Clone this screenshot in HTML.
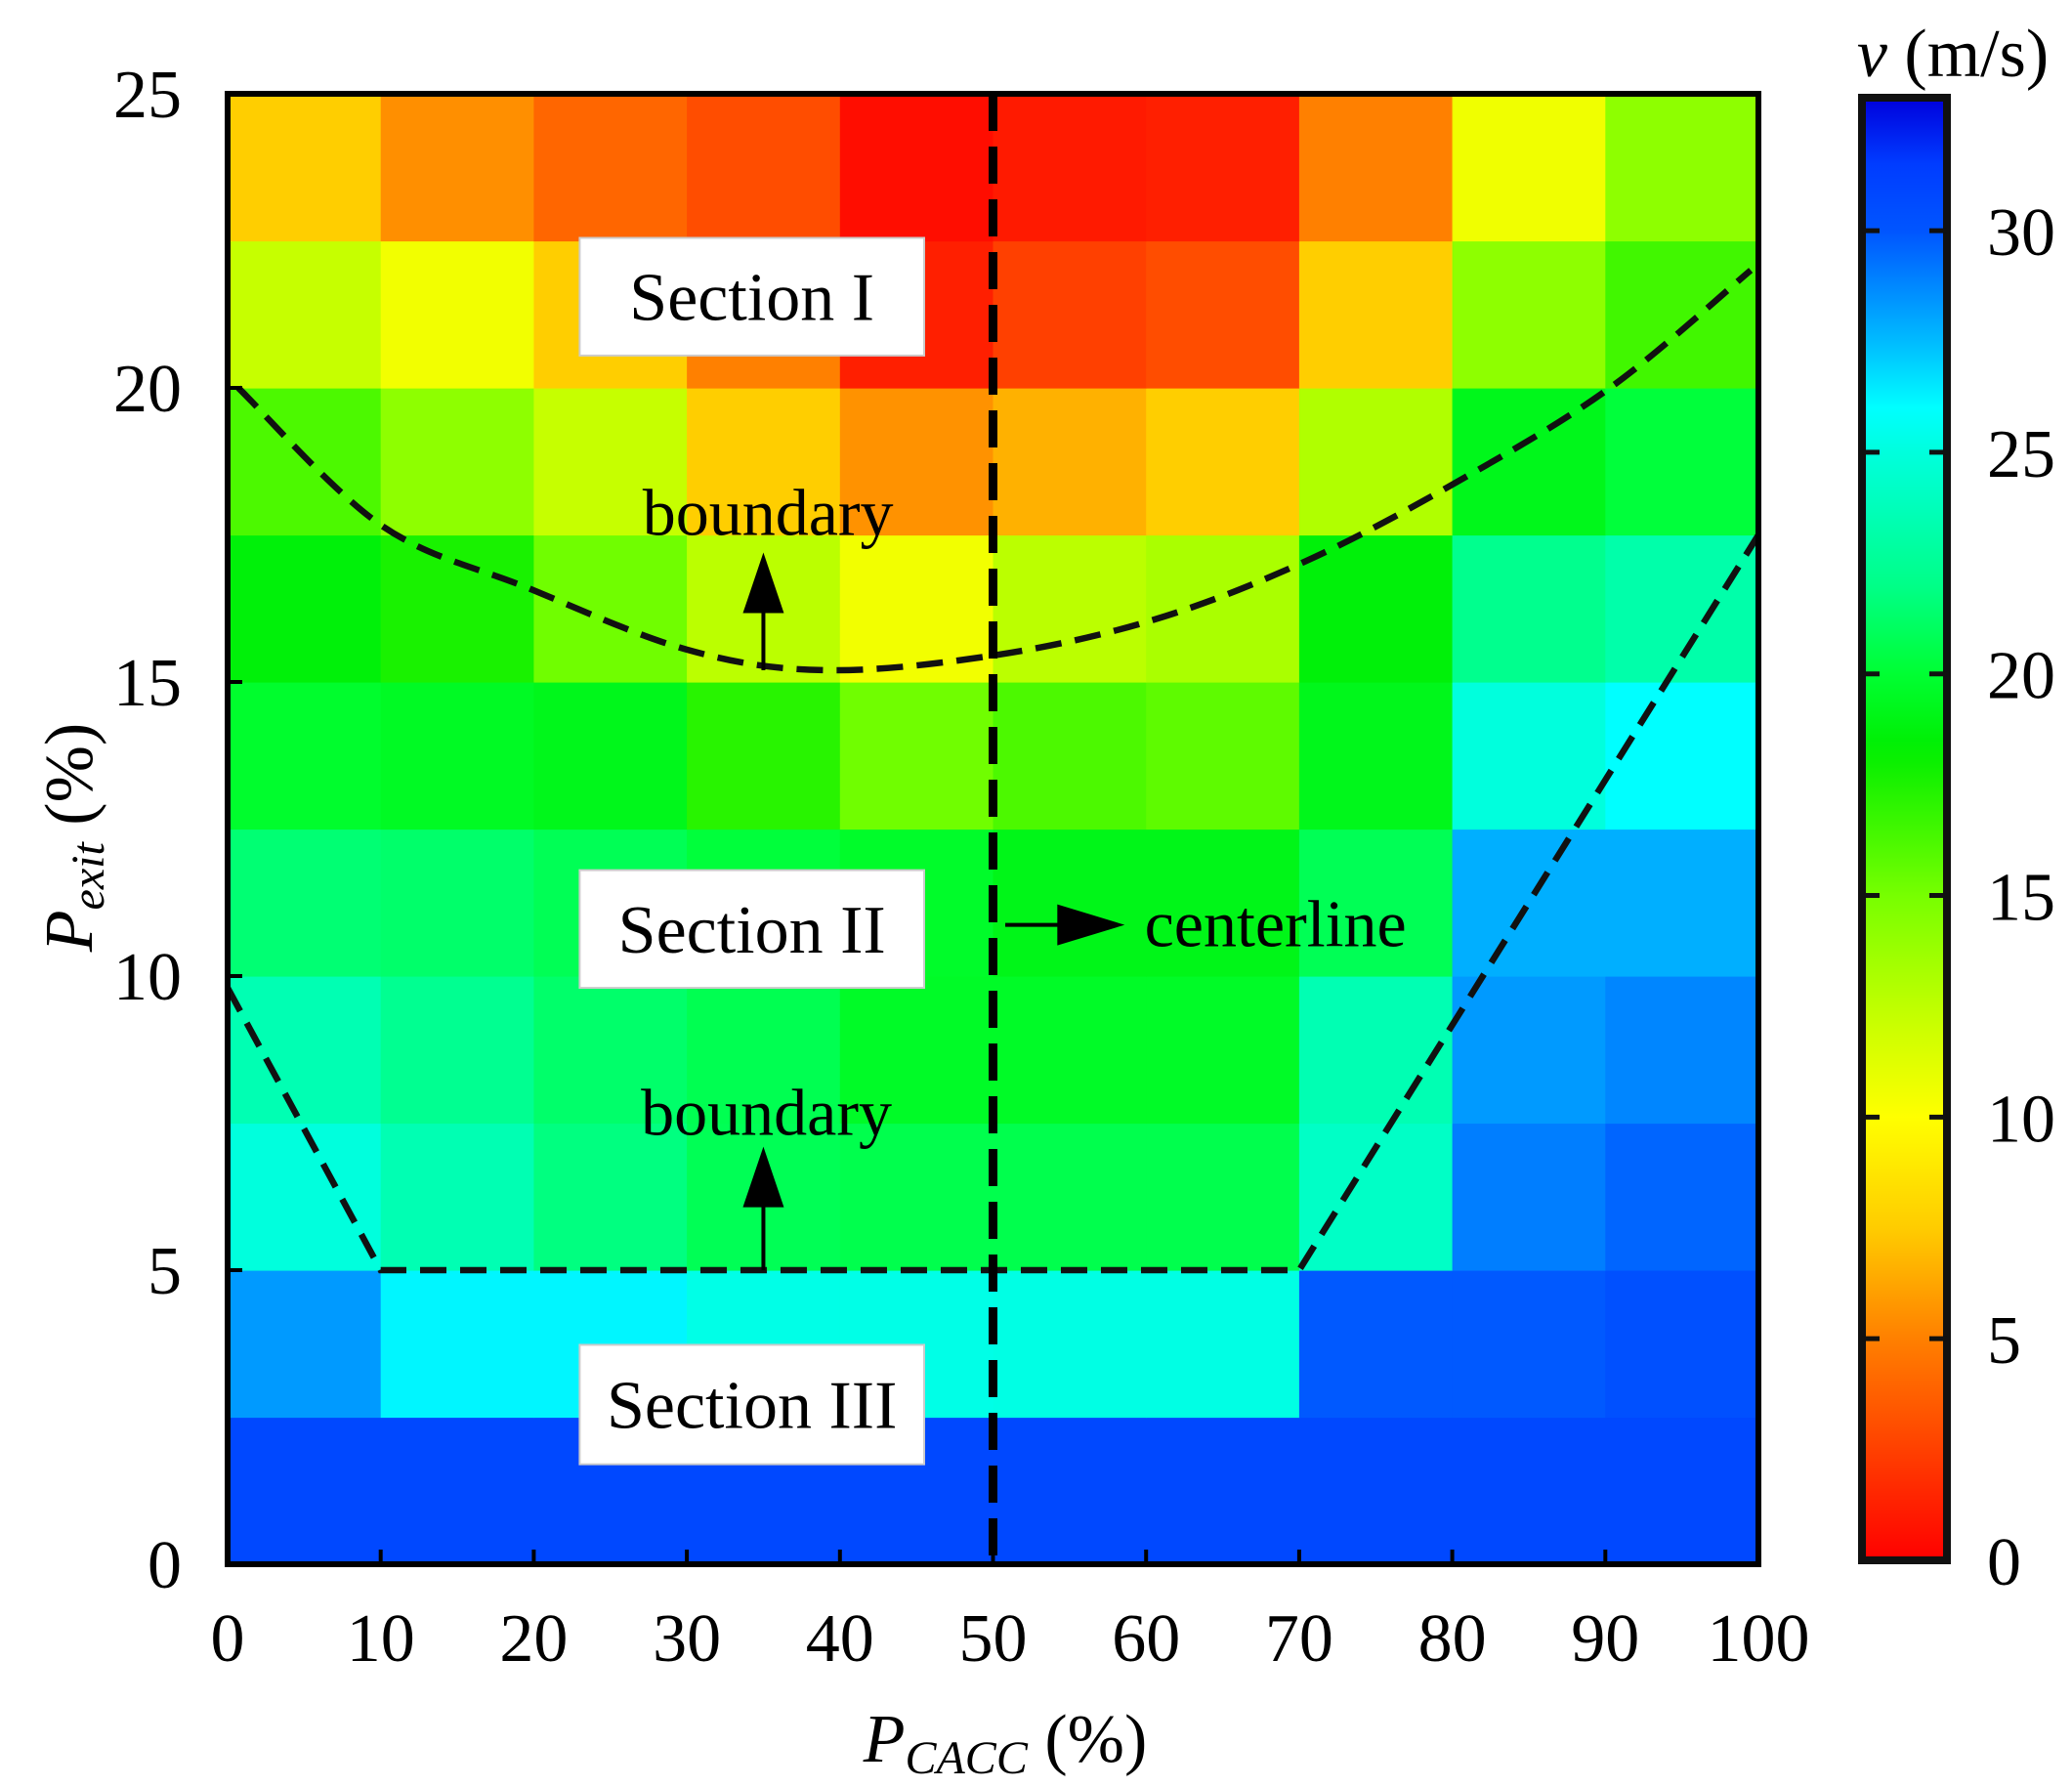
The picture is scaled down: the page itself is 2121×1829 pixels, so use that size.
<!DOCTYPE html>
<html><head><meta charset="utf-8"><style>
html,body{margin:0;padding:0;background:#fff;}
svg{display:block;font-family:"Liberation Serif",serif;}
</style></head><body>
<svg id="chart" width="2121" height="1829" viewBox="0 0 2121 1829" xmlns="http://www.w3.org/2000/svg"></svg>
<script>
// ---- data ----
const xCats = [0,10,20,30,40,50,60,70,80,90];           // column left edges (P_CACC %)
const yCats = [0,2.5,5,7.5,10,12.5,15,17.5,20,22.5];     // row bottom edges (P_exit %)
// speed values, rows from bottom (P_exit 0) to top (22.5)
const row0 = [30.8,30.8,30.8,30.8,30.8,30.8,30.8,30.8,30.8,30.8];
const row1 = [28.3,26.2,26.2,25.3,25.3,25.2,25.2,29.9,29.9,30.3];
const row2 = [25,23.5,21.8,20.8,20.6,20.6,20.6,24.2,29,29.6];
const row3 = [23.5,22.3,21.3,20.7,19.6,19.6,19.6,23.5,28.3,28.8];
const row4 = [21.5,21.3,20.8,20.2,19.7,19.1,19.1,20.8,27.8,27.8];
const row5 = [19.8,19.5,19.2,17.2,15.2,16.2,15.7,19.2,25,26];
const row6 = [18.6,17.6,15.2,12.6,10.5,12.6,13.2,18.6,22.2,23.2];
const row7 = [16.2,14.2,12.2,7.6,5.6,6.6,7.6,13,19.2,20.2];
const row8 = [12.2,10.5,7.6,5,1.2,2.5,3,7.6,14.2,16.5];
const row9 = [7.6,5.5,4,3,0.5,1,1.2,5,10.6,14.2];
const grid = [row0,row1,row2,row3,row4,row5,row6,row7,row8,row9];
const xTicks = [0,10,20,30,40,50,60,70,80,90,100];
const yTicks = [0,5,10,15,20,25];
const cbTicks = [0,5,10,15,20,25,30];
const upperBx = [0.7,10,19.6,30,39,50,60.4,70.4,80.3,90.3,99.5];
const upperBy = [20,17.67,16.6,15.55,15.2,15.45,16.05,17.05,18.4,20,22];
const lowerBx = [0,10,70,100];
const lowerBy = [9.8,5,5,17.5];
const vmin = 0, vmax = 33;

// ---- geometry ----
const L=233,R=1800,T=96,B=1601;
const X = v => L + (v-0)/(100-0)*(R-L);
const Y = v => B - (v-0)/(25-0)*(B-T);
const CBL=1906,CBR=1993,CBT=100,CBB=1597;
const CY = v => CBB - (v-vmin)/(vmax-vmin)*(CBB-CBT);

const stops=[[0,[255,0,0]],[2.5,[255,64,0]],[5,[255,128,0]],[7.5,[255,204,0]],[10,[255,255,0]],[12,[204,255,0]],[15,[119,255,0]],[18.3,[0,238,0]],[20,[0,255,51]],[22,[0,255,136]],[25,[0,255,221]],[26,[0,255,255]],[27.5,[0,187,255]],[30,[0,85,255]],[31.5,[0,60,255]],[33,[0,0,221]]];
function cmap(v){
  if(v<=stops[0][0]) return 'rgb('+stops[0][1]+')';
  for(let i=1;i<stops.length;i++){
    if(v<=stops[i][0]){
      const a=stops[i-1],b=stops[i],t=(v-a[0])/(b[0]-a[0]);
      const c=a[1].map((x,k)=>Math.round(x+(b[1][k]-x)*t));
      return 'rgb('+c.join(',')+')';
    }
  }
  return 'rgb('+stops[stops.length-1][1]+')';
}
const NS='http://www.w3.org/2000/svg';
const svg=document.getElementById('chart');
function mk(tag,attrs,parent){const e=document.createElementNS(NS,tag);for(const k in attrs)e.setAttribute(k,attrs[k]);(parent||svg).appendChild(e);return e;}

// cells
const cells=mk('g',{});


grid.forEach((row,ri)=>{
  row.forEach((v,ci)=>{
    const x0=X(xCats[ci]),x1=X(xCats[ci]+10),y1=Y(yCats[ri]),y0=Y(yCats[ri]+2.5);
    const r=mk('rect',{x:x0,y:y0,width:x1-x0+0.6,height:y1-y0+0.6,fill:cmap(v)},cells);
    
    
  });
});

// boundaries
function smooth(xs,ys){
  const p=xs.map((x,i)=>[X(x),Y(ys[i])]);
  let d='M'+p[0][0]+','+p[0][1];
  for(let i=0;i<p.length-1;i++){
    const p0=p[Math.max(0,i-1)],p1=p[i],p2=p[i+1],p3=p[Math.min(p.length-1,i+2)];
    const c1=[p1[0]+(p2[0]-p0[0])/6,p1[1]+(p2[1]-p0[1])/6];
    const c2=[p2[0]-(p3[0]-p1[0])/6,p2[1]-(p3[1]-p1[1])/6];
    d+=' C'+c1+' '+c2+' '+p2;
  }
  return d;
}
function poly(xs,ys){return xs.map((x,i)=>X(x)+','+Y(ys[i])).join(' ');}
const ub=mk('path',{d:smooth(upperBx,upperBy),fill:'none',stroke:'#111','stroke-width':6.5,'stroke-dasharray':'27 14'});


const lb=mk('polyline',{points:poly(lowerBx,lowerBy),fill:'none',stroke:'#111','stroke-width':6.5,'stroke-dasharray':'27 14'});


const cl=mk('line',{x1:X(50),y1:T,x2:X(50),y2:B,stroke:'#000','stroke-width':9,'stroke-dasharray':'38 16'});



// arrows
function arrowUp(x,y0,y1,name){
  const g=mk('g',{});
  
  
  mk('line',{x1:X(x),y1:Y(y0),x2:X(x),y2:Y(y1)+50,stroke:'#000','stroke-width':4},g);
  mk('polygon',{points:`${X(x)},${Y(y1)} ${X(x)-21},${Y(y1)+62} ${X(x)+21},${Y(y1)+62}`,fill:'#000'},g);
}
arrowUp(35,15.2,17.2,'upper-boundary-arrow');
arrowUp(35,5,7.1,'lower-boundary-arrow');
const ca=mk('g',{});


mk('line',{x1:X(50.8),y1:Y(10.87),x2:X(55),y2:Y(10.87),stroke:'#000','stroke-width':4},ca);
mk('polygon',{points:`${X(58.6)},${Y(10.87)} ${X(54.2)},${Y(10.87)-21} ${X(54.2)},${Y(10.87)+21}`,fill:'#000'},ca);

function txt(s,x,y,attrs,name){const t=mk('text',Object.assign({x:x,y:y},attrs));t.textContent=s;return t;}
txt('boundary',X(35.3),Y(17.5),{'font-size':68,'text-anchor':'middle'},'upper-boundary-label');
txt('boundary',X(35.2),Y(7.3),{'font-size':68,'text-anchor':'middle'},'lower-boundary-label');
txt('centerline',X(59.9),Y(10.87)+22,{'font-size':68},'centerline-label');

// section boxes
function box(label,yTop,yBot,name){
  const g=mk('g',{});
  
  
  mk('rect',{x:X(23),y:Y(yTop),width:X(45.5)-X(23),height:Y(yBot)-Y(yTop),fill:'#fff',stroke:'#ccc','stroke-width':2},g);
  const t=mk('text',{x:(X(23)+X(45.5))/2,y:(Y(yTop)+Y(yBot))/2+24,'font-size':70,'text-anchor':'middle'},g);
  t.textContent=label;
}
box('Section I',22.55,20.55,'section-1-box');
box('Section II',11.8,9.8,'section-2-box');
box('Section III',3.73,1.7,'section-3-box');

// frame + ticks
const fr=mk('rect',{x:L,y:T,width:R-L,height:B-T,fill:'none',stroke:'#000','stroke-width':6});


xTicks.forEach(v=>{
  mk('line',{x1:X(v),y1:B,x2:X(v),y2:B-15,stroke:'#000','stroke-width':4});
  txt(String(v),X(v),1700,{'font-size':70,'text-anchor':'middle'},'x-tick-label');
});
yTicks.forEach(v=>{
  mk('line',{x1:L,y1:Y(v),x2:L+15,y2:Y(v),stroke:'#000','stroke-width':4});
  txt(String(v),186,Y(v)+24,{'font-size':70,'text-anchor':'end'},'y-tick-label');
});
const xt=mk('text',{x:1029,y:1803,'font-size':70,'text-anchor':'middle'});


xt.innerHTML='<tspan font-style="italic">P</tspan><tspan font-style="italic" font-size="48" dy="12">CACC</tspan><tspan dy="-12"> (%)</tspan>';
const yt=mk('text',{x:0,y:0,'font-size':70,'text-anchor':'middle',transform:'translate(94,857) rotate(-90)'});


yt.innerHTML='<tspan font-style="italic">P</tspan><tspan font-style="italic" font-size="48" dy="12">exit</tspan><tspan dy="-12"> (%)</tspan>';

// colorbar
const defs=mk('defs',{});
const lg=mk('linearGradient',{id:'cbg',x1:0,y1:1,x2:0,y2:0},defs);
for(let v=0;v<=33;v+=0.5){mk('stop',{offset:(v/33),'stop-color':cmap(v)},lg);}
const cb=mk('rect',{x:CBL,y:CBT,width:CBR-CBL,height:CBB-CBT,fill:'url(#cbg)',stroke:'#111','stroke-width':8});


cbTicks.forEach(v=>{
  if(v>0&&v<33){
    mk('line',{x1:CBL,y1:CY(v),x2:CBL+18,y2:CY(v),stroke:'#111','stroke-width':5});
    mk('line',{x1:CBR-18,y1:CY(v),x2:CBR,y2:CY(v),stroke:'#111','stroke-width':5});
  }
  txt(String(v),2034,CY(v)+25,{'font-size':70},'colorbar-tick-label');
});
const ct=mk('text',{x:1999,y:78,'font-size':70,'text-anchor':'middle'});


ct.innerHTML='<tspan font-style="italic">v</tspan> (m/s)';
</script>
</body></html>
